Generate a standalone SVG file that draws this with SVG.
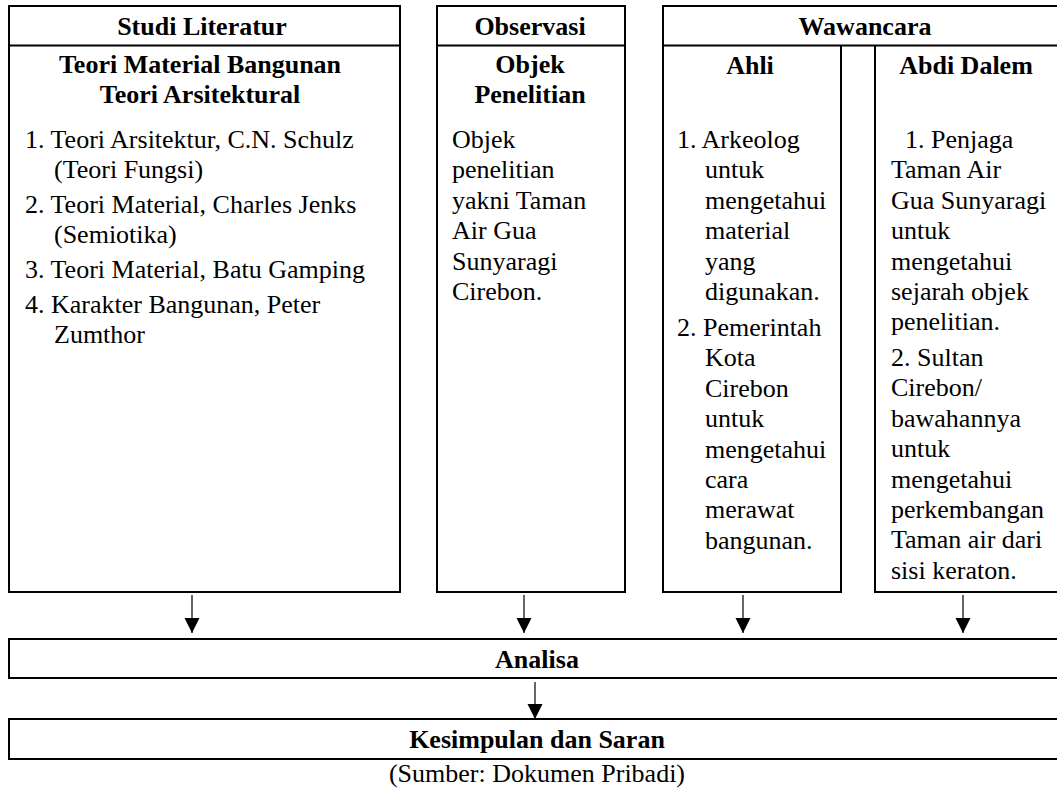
<svg xmlns="http://www.w3.org/2000/svg" width="1057" height="795" viewBox="0 0 1057 795">
<defs>
<style>
.box{fill:#fff;stroke:#000;stroke-width:2}
.ln{fill:none;stroke:#000;stroke-width:2}
.t{font-family:"Liberation Serif","Times New Roman",serif;font-size:26px;fill:#000}
.b{font-weight:bold;text-anchor:middle}
.con{stroke:#000;stroke-width:1.2;fill:none;marker-end:url(#arr)}
</style>
<marker id="arr" markerUnits="userSpaceOnUse" markerWidth="15" markerHeight="16" refX="15" refY="7.5" orient="auto" viewBox="0 0 15 15">
<path d="M0,0 L15,7.5 L0,15 z" fill="#000"/>
</marker>
</defs>
<rect width="1057" height="795" fill="#fff"/>

<g id="studi-literatur">
<rect class="box" x="9" y="6" width="391" height="586"/>
<line class="ln" x1="9" y1="45.5" x2="400" y2="45.5"/>
<text class="t b" x="202" y="35">Studi Literatur</text>
<text class="t b" x="200" y="73">Teori Material Bangunan</text>
<text class="t b" x="200" y="103">Teori Arsitektural</text>
<text class="t">
<tspan x="25" y="148">1. Teori Arsitektur, C.N. Schulz</tspan>
<tspan x="54" y="178">(Teori Fungsi)</tspan>
<tspan x="25" y="213">2. Teori Material, Charles Jenks</tspan>
<tspan x="54" y="243">(Semiotika)</tspan>
<tspan x="25" y="278">3. Teori Material, Batu Gamping</tspan>
<tspan x="25" y="313">4. Karakter Bangunan, Peter</tspan>
<tspan x="54" y="343">Zumthor</tspan>
</text>
</g>

<g id="observasi">
<rect class="box" x="437" y="6" width="188" height="586"/>
<line class="ln" x1="437" y1="45.5" x2="625" y2="45.5"/>
<text class="t b" x="530" y="35">Observasi</text>
<text class="t b" x="530" y="73">Objek</text>
<text class="t b" x="530" y="103">Penelitian</text>
<text class="t">
<tspan x="452" y="148">Objek</tspan>
<tspan x="452" y="178.4">penelitian</tspan>
<tspan x="452" y="208.8">yakni Taman</tspan>
<tspan x="452" y="239.2">Air Gua</tspan>
<tspan x="452" y="269.6">Sunyaragi</tspan>
<tspan x="452" y="300">Cirebon.</tspan>
</text>
</g>

<g id="wawancara">
<path class="ln" d="M1062,6 L663,6 L663,592 L841,592 L841,45.5 M663,45.5 L1062,45.5 M875,45.5 L875,592 L1062,592"/>
<text class="t b" x="865" y="35">Wawancara</text>
</g>

<g id="ahli">
<text class="t b" x="750" y="74">Ahli</text>
<text class="t">
<tspan x="677" y="148">1. Arkeolog</tspan>
<tspan x="705" y="178.4">untuk</tspan>
<tspan x="705" y="208.8">mengetahui</tspan>
<tspan x="705" y="239.2">material</tspan>
<tspan x="705" y="269.6">yang</tspan>
<tspan x="705" y="300">digunakan.</tspan>
<tspan x="677" y="336">2. Pemerintah</tspan>
<tspan x="705" y="366.4">Kota</tspan>
<tspan x="705" y="396.8">Cirebon</tspan>
<tspan x="705" y="427.2">untuk</tspan>
<tspan x="705" y="457.6">mengetahui</tspan>
<tspan x="705" y="488">cara</tspan>
<tspan x="705" y="518.4">merawat</tspan>
<tspan x="705" y="548.8">bangunan.</tspan>
</text>
</g>

<g id="abdi-dalem">
<text class="t b" x="966" y="74">Abdi Dalem</text>
<text class="t">
<tspan x="905" y="148">1. Penjaga</tspan>
<tspan x="891" y="178.4">Taman Air</tspan>
<tspan x="891" y="208.8">Gua Sunyaragi</tspan>
<tspan x="891" y="239.2">untuk</tspan>
<tspan x="891" y="269.6">mengetahui</tspan>
<tspan x="891" y="300">sejarah objek</tspan>
<tspan x="891" y="330.4">penelitian.</tspan>
<tspan x="891" y="366">2. Sultan</tspan>
<tspan x="891" y="396.4">Cirebon/</tspan>
<tspan x="891" y="426.8">bawahannya</tspan>
<tspan x="891" y="457.2">untuk</tspan>
<tspan x="891" y="487.6">mengetahui</tspan>
<tspan x="891" y="518">perkembangan</tspan>
<tspan x="891" y="548.4">Taman air dari</tspan>
<tspan x="891" y="578.8">sisi keraton.</tspan>
</text>
</g>

<g id="analisa">
<rect class="box" x="9" y="639" width="1055" height="39"/>
<text class="t b" x="537" y="668">Analisa</text>
</g>

<g id="kesimpulan">
<rect class="box" x="9" y="719" width="1055" height="40"/>
<text class="t b" x="537" y="748">Kesimpulan dan Saran</text>
</g>

<g id="connectors">
<line class="con" x1="192" y1="595" x2="192" y2="633"/>
<line class="con" x1="524" y1="595" x2="524" y2="633"/>
<line class="con" x1="743" y1="595" x2="743" y2="633"/>
<line class="con" x1="963" y1="595" x2="963" y2="633"/>
<line class="con" x1="535" y1="682" x2="535" y2="719"/>
</g>

<text class="t" x="537" y="782" text-anchor="middle">(Sumber: Dokumen Pribadi)</text>
</svg>
